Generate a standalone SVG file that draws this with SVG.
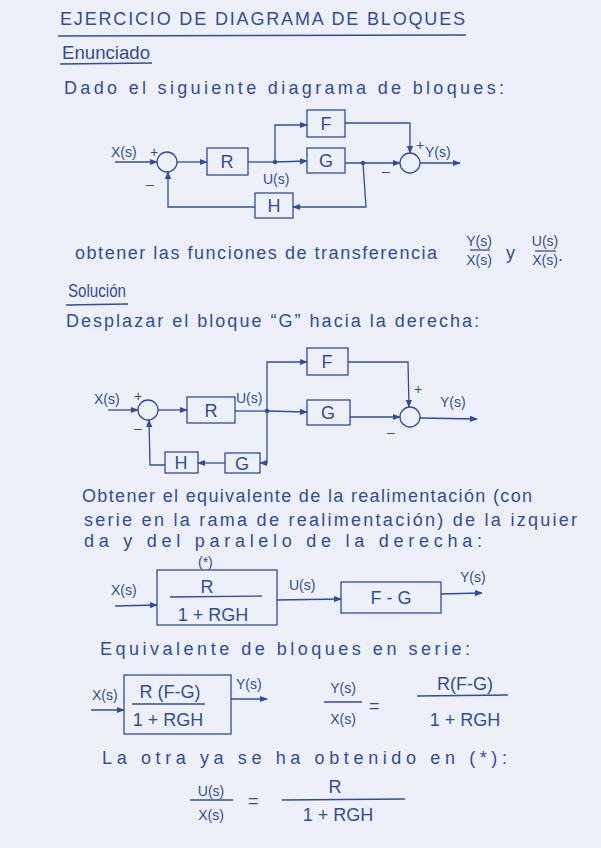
<svg xmlns="http://www.w3.org/2000/svg" width="601" height="848" viewBox="0 0 601 848">
<defs>
<marker id="ar" viewBox="0 0 10 10" refX="9" refY="5" markerWidth="8" markerHeight="8" markerUnits="userSpaceOnUse" orient="auto"><path d="M0,1 L10,5 L0,9 z" fill="#2f4d9e"/></marker>
<style>
.t{font-family:"Liberation Sans","DejaVu Sans",sans-serif;fill:#2f4d9e;font-size:18px}
.b{font-size:18px}
.s{font-size:14px}
.m{text-anchor:middle}
.l{fill:none;stroke:#2f4d9e;stroke-width:1.3}
.a{fill:none;stroke:#2f4d9e;stroke-width:1.3;marker-end:url(#ar)}
.d{fill:#2f4d9e}
</style>
</defs>
<rect width="601" height="848" fill="#edf0f8"/>
<g id="header">
<text class="t" x="60" y="25" font-size="15" textLength="405" lengthAdjust="spacing">EJERCICIO DE DIAGRAMA DE BLOQUES</text>
<line class="l" x1="58" y1="36" x2="466" y2="35"/>
<text class="t" x="62" y="59" font-size="14" textLength="88" lengthAdjust="spacingAndGlyphs">Enunciado</text>
<line class="l" x1="60" y1="64" x2="152" y2="63"/>
<text class="t" x="64" y="94" textLength="440" lengthAdjust="spacing">Dado el siguiente diagrama de bloques:</text>
</g>
<g id="diagram1">
<g id="d1-sum1"><circle class="l" cx="167" cy="162" r="10"/></g>
<g id="d1-R"><rect class="l" x="207" y="148" width="41" height="27"/><text class="t m" x="227" y="168">R</text></g>
<g id="d1-F"><rect class="l" x="307" y="110" width="38" height="27"/><text class="t m" x="326" y="130">F</text></g>
<g id="d1-G"><rect class="l" x="307" y="148" width="38" height="25"/><text class="t m" x="326" y="167">G</text></g>
<g id="d1-H"><rect class="l" x="255" y="193" width="38" height="25"/><text class="t m" x="274" y="212">H</text></g>
<g id="d1-sum2"><circle class="l" cx="410" cy="163" r="10"/></g>
<g id="d1-connectors">
<line class="a" x1="115" y1="162" x2="157" y2="162"/>
<line class="a" x1="177" y1="162" x2="207" y2="162"/>
<line class="l" x1="248" y1="162" x2="275" y2="162"/>
<line class="a" x1="275" y1="162" x2="307" y2="161"/>
<polyline class="a" points="275,162 275,125 307,125"/>
<polyline class="a" points="345,123 410,123 410,153"/>
<line class="a" x1="345" y1="163" x2="400" y2="163"/>
<line class="a" x1="420" y1="163" x2="460" y2="163"/>
<polyline class="a" points="363,163 366,207 293,207"/>
<polyline class="a" points="255,207 168,207 168,172"/>
<circle class="d" cx="275" cy="162" r="2.2"/>
<circle class="d" cx="363" cy="163" r="2.2"/>
</g>
<text class="t s" x="111" y="157">X(s)</text>
<text class="t s" x="150" y="157">+</text>
<text class="t s" x="146" y="189">–</text>
<text class="t s" x="263" y="184">U(s)</text>
<text class="t s" x="416" y="150">+</text>
<text class="t s" x="425" y="157">Y(s)</text>
<text class="t s" x="382" y="176">–</text>
</g>
<g id="text2">
<text class="t" x="75" y="259" textLength="362" lengthAdjust="spacing">obtener las funciones de transferencia</text>
<text class="t s m" x="479" y="246">Y(s)</text>
<line class="l" x1="470" y1="250" x2="490" y2="250"/>
<text class="t s m" x="479" y="265">X(s)</text>
<text class="t" x="506" y="259">y</text>
<text class="t s m" x="545" y="246">U(s)</text>
<line class="l" x1="535" y1="251" x2="556" y2="251"/>
<text class="t s m" x="545" y="265">X(s)</text>
<text class="t" x="558" y="261">.</text>
<text class="t" x="68" y="297" font-size="14" textLength="58" lengthAdjust="spacingAndGlyphs">Solución</text>
<line class="l" x1="66" y1="305" x2="128" y2="304"/>
<text class="t" x="66" y="327" textLength="413" lengthAdjust="spacing">Desplazar el bloque “G” hacia la derecha:</text>
</g>
<g id="diagram2">
<g id="d2-sum1"><circle class="l" cx="148" cy="410" r="10"/></g>
<g id="d2-R"><rect class="l" x="187" y="397" width="48" height="26"/><text class="t m" x="211" y="417">R</text></g>
<g id="d2-F"><rect class="l" x="307" y="348" width="41" height="27"/><text class="t m" x="327" y="368">F</text></g>
<g id="d2-G"><rect class="l" x="307" y="400" width="43" height="25"/><text class="t m" x="328" y="419">G</text></g>
<g id="d2-G2"><rect class="l" x="225" y="453" width="35" height="20"/><text class="t m" x="242" y="470">G</text></g>
<g id="d2-H"><rect class="l" x="165" y="452" width="33" height="21"/><text class="t m" x="181" y="469">H</text></g>
<g id="d2-sum2"><circle class="l" cx="410" cy="417" r="10"/></g>
<g id="d2-connectors">
<line class="a" x1="108" y1="410" x2="138" y2="410"/>
<line class="a" x1="158" y1="410" x2="187" y2="410"/>
<line class="l" x1="235" y1="411" x2="267" y2="411"/>
<line class="a" x1="267" y1="411" x2="307" y2="412"/>
<polyline class="a" points="267,411 267,362 307,362"/>
<polyline class="a" points="348,362 408,362 409,407"/>
<line class="a" x1="350" y1="417" x2="400" y2="417"/>
<line class="a" x1="420" y1="418" x2="477" y2="419"/>
<polyline class="a" points="267,411 267,463 260,463"/>
<line class="a" x1="225" y1="463" x2="198" y2="463"/>
<polyline class="a" points="165,465 150,465 149,420"/>
<circle class="d" cx="267" cy="411" r="2.2"/>
</g>
<text class="t s" x="94" y="404">X(s)</text>
<text class="t s" x="134" y="401">+</text>
<text class="t s" x="134" y="433">–</text>
<text class="t s" x="236" y="403">U(s)</text>
<text class="t s" x="414" y="394">+</text>
<text class="t s" x="387" y="437">–</text>
<text class="t s" x="440" y="407">Y(s)</text>
</g>
<g id="text3">
<text class="t" x="82" y="502" textLength="450" lengthAdjust="spacing">Obtener el equivalente de la realimentación (con</text>
<text class="t" x="84" y="526" textLength="493" lengthAdjust="spacing">serie en la rama de realimentación) de la izquier</text>
<text class="t" x="84" y="547" textLength="398" lengthAdjust="spacing">da y del paralelo de la derecha:</text>
</g>
<g id="diagram3">
<text class="t s" x="198" y="567">(*)</text>
<g id="d3-box1"><rect class="l" x="157" y="570" width="120" height="55"/>
<text class="t m" x="207" y="593">R</text>
<line class="l" x1="170" y1="597" x2="262" y2="596"/>
<text class="t m" x="213" y="621">1 + RGH</text></g>
<g id="d3-box2"><rect class="l" x="341" y="582" width="100" height="31"/><text class="t m" x="391" y="604">F - G</text></g>
<g id="d3-connectors">
<line class="a" x1="115" y1="606" x2="157" y2="605"/>
<line class="a" x1="277" y1="600" x2="341" y2="599"/>
<line class="a" x1="441" y1="594" x2="482" y2="593"/>
</g>
<text class="t s" x="111" y="595">X(s)</text>
<text class="t s" x="289" y="590">U(s)</text>
<text class="t s" x="460" y="582">Y(s)</text>
</g>
<g id="text4">
<text class="t" x="100" y="655" textLength="370" lengthAdjust="spacing">Equivalente de bloques en serie:</text>
</g>
<g id="diagram4">
<g id="d4-box"><rect class="l" x="124" y="675" width="107" height="59"/>
<text class="t m" x="170" y="698">R (F-G)</text>
<line class="l" x1="132" y1="704" x2="205" y2="704"/>
<text class="t m" x="168" y="726">1 + RGH</text></g>
<g id="d4-connectors">
<line class="a" x1="91" y1="710" x2="124" y2="710"/>
<line class="a" x1="231" y1="699" x2="267" y2="699"/>
</g>
<text class="t s" x="92" y="700">X(s)</text>
<text class="t s" x="236" y="689">Y(s)</text>
</g>
<g id="eq1">
<text class="t s m" x="343" y="693">Y(s)</text>
<line class="l" x1="324" y1="702" x2="362" y2="702"/>
<text class="t s m" x="343" y="724">X(s)</text>
<text class="t" x="369" y="712">=</text>
<text class="t m" x="465" y="690">R(F-G)</text>
<line class="l" x1="417" y1="696" x2="508" y2="695"/>
<text class="t m" x="465" y="726">1 + RGH</text>
</g>
<g id="text5">
<text class="t" x="102" y="764" textLength="405" lengthAdjust="spacing">La otra ya se ha obtenido en (*):</text>
</g>
<g id="eq2">
<text class="t s m" x="211" y="796">U(s)</text>
<line class="l" x1="190" y1="800" x2="233" y2="800"/>
<text class="t s m" x="211" y="820">X(s)</text>
<text class="t" x="248" y="807">=</text>
<text class="t m" x="335" y="793">R</text>
<line class="l" x1="282" y1="800" x2="405" y2="799"/>
<text class="t m" x="338" y="821">1 + RGH</text>
</g>
</svg>
